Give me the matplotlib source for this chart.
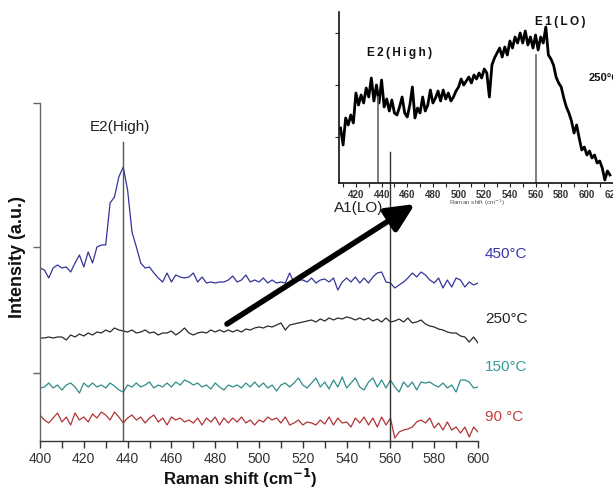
import numpy as np
import matplotlib
matplotlib.use("Agg")
import matplotlib.pyplot as plt
from matplotlib.patches import FancyArrowPatch
from matplotlib.ticker import MultipleLocator

plt.rcParams['font.family'] = ['Liberation Sans', 'DejaVu Sans']

# ---------------- data (main panel, Raman shift 400..600 cm-1, step 2) ----------------
x_start, x_step = 400, 2
i_450 = [172, 170, 162, 172, 175, 172, 173, 168, 177, 185, 173, 188, 177, 193, 195, 195, 237, 243, 263, 273,
         250, 208, 193, 177, 172, 173, 167, 162, 158, 167, 158, 165, 163, 162, 163, 167, 158, 163, 157, 158,
         157, 158, 158, 160, 164, 158, 160, 165, 158, 160, 158, 162, 157, 160, 157, 158, 157, 167, 157, 160,
         160, 158, 162, 157, 160, 161, 158, 162, 150, 158, 162, 158, 163, 157, 162, 157, 163, 167, 168, 158,
         157, 152, 155, 158, 162, 167, 163, 168, 165, 160, 157, 162, 152, 160, 153, 162, 160, 153, 158, 155, 157]
i_250 = [102, 102, 103, 102, 103, 103, 100, 105, 103, 106, 104, 107, 105, 108, 107, 110, 108, 112, 110, 109,
         108, 110, 107, 108, 110, 107, 108, 105, 107, 107, 109, 105, 108, 112, 107, 105, 107, 108, 107, 110,
         108, 110, 108, 110, 108, 110, 108, 111, 110, 112, 113, 112, 114, 113, 115, 117, 110, 115, 116, 117,
         118, 119, 120, 118, 121, 119, 122, 120, 122, 121, 123, 122, 120, 122, 120, 122, 119, 121, 118, 122,
         118, 119, 121, 118, 122, 117, 118, 120, 116, 114, 113, 111, 110, 108, 107, 107, 104, 103, 98, 103, 97]
i_150 = [52, 53, 57, 52, 55, 50, 55, 57, 53, 47, 57, 53, 57, 53, 55, 52, 57, 54, 50, 48,
         55, 53, 57, 53, 55, 58, 52, 55, 53, 57, 53, 58, 55, 60, 58, 55, 57, 53, 55, 51,
         57, 53, 50, 55, 53, 55, 52, 57, 53, 58, 53, 57, 52, 55, 49, 55, 57, 53, 57, 62,
         55, 52, 57, 62, 53, 58, 51, 60, 53, 63, 52, 57, 62, 53, 50, 58, 62, 53, 60, 52,
         60, 53, 48, 58, 53, 58, 50, 58, 57, 58, 55, 53, 57, 52, 55, 48, 60, 60, 58, 52, 53]
i_90 = [25, 20, 17, 22, 27, 18, 23, 15, 27, 20, 23, 18, 26, 22, 28, 25, 20, 28, 23, 17,
        22, 25, 20, 23, 17, 22, 25, 18, 22, 15, 23, 20, 22, 18, 20, 17, 22, 15, 22, 18,
        23, 15, 22, 17, 22, 18, 23, 17, 20, 15, 20, 18, 23, 20, 22, 17, 23, 15, 17, 20,
        15, 18, 17, 15, 20, 16, 23, 15, 22, 17, 18, 13, 22, 17, 23, 15, 22, 13, 23, 15,
        22, 2, 8, 10, 11, 13, 18, 20, 17, 22, 12, 17, 10, 18, 10, 13, 7, 13, 3, 13, 8]

series_labels = ['450°C', '250°C', '150°C', '90 °C']
series_values = [i_450, i_250, i_150, i_90]
series_colors = ['#34349a', '#2a2a2a', '#2f8c8c', '#b03434']
label_colors = ['#3838a8', '#222222', '#3a9a9a', '#c43c3c']

main_xticks = [400, 420, 440, 460, 480, 500, 520, 540, 560, 580, 600]
peak_main = {'E2(High)': 438, 'A1(LO)': 560}

# ---------------- data (inset, 250 °C spectrum, 408..618 cm-1, step 2) ----------------
ins_start, ins_step = 408, 2
ins_int = [55, 38, 65, 58, 68, 60, 90, 78, 88, 80, 95, 86, 105, 82, 98, 80, 103, 76, 84, 72,
           83, 70, 68, 76, 86, 70, 66, 78, 96, 65, 75, 70, 86, 72, 78, 93, 80, 85, 92, 82,
           93, 84, 90, 82, 86, 92, 96, 104, 98, 102, 106, 100, 108, 104, 110, 105, 114, 110, 86, 118,
           125, 130, 135, 126, 136, 128, 142, 135, 146, 140, 150, 140, 152, 138, 146, 135, 148, 133, 146, 140,
           156, 128, 124, 118, 106, 100, 96, 85, 76, 70, 62, 50, 58, 45, 33, 36, 28, 32, 25, 28,
           20, 22, 15, 3, 12, 8]
ins_xticks = [420, 440, 460, 480, 500, 520, 540, 560, 580, 600, 620]
peak_inset = {'E2(High)': 437, 'E1(LO)': 560}

# ---------------- figure ----------------
W, H = 613, 493
fig = plt.figure(figsize=(W / 100, H / 100), dpi=100)
fig.patch.set_facecolor('white')


def fx(px):
    return px / W


def fy(py):
    return 1 - py / H


def spaced(s):
    return '\u2009'.join(s)


# main axes: pixel box left 40, right 478, top 103, bottom 441
ax = fig.add_axes([fx(40), fy(441), fx(478) - fx(40), fy(103) - fy(441)])
ax.set_xlim(400, 600)
ax.set_ylim(-1, 337)
for s in ['top', 'right']:
    ax.spines[s].set_visible(False)
ax.spines['left'].set_color('#666666')
ax.spines['bottom'].set_color('#333333')
ax.spines['left'].set_linewidth(1.0)
ax.spines['bottom'].set_linewidth(1.0)
ax.set_xticks(main_xticks)
ax.xaxis.set_minor_locator(MultipleLocator(10))
ax.set_yticks([67, 193, 337])
ax.set_yticklabels([])
ax.tick_params(axis='x', which='major', direction='out', length=5, width=1, color='#333333',
               labelsize=10, labelcolor='#333333', pad=3)
ax.tick_params(axis='x', which='minor', direction='out', length=5, width=1, color='#333333')
ax.tick_params(axis='y', direction='out', length=5, width=1, color='#666666')
ax.patch.set_alpha(0)

for vals, col in zip(series_values, series_colors):
    xs = x_start + x_step * np.arange(len(vals))
    ax.plot(xs, vals, color=col, lw=0.9)

ax.plot([peak_main['E2(High)']] * 2, [-1, 298], color='#555555', lw=1.0)
ax.plot([peak_main['A1(LO)']] * 2, [-1, 288], color='#333333', lw=1.0)

# labels of main panel
fig.text(fx(120), fy(127), 'E2(High)', fontsize=11, ha='center', va='center', color='#222222')
fig.text(fx(359), fy(208), 'A1(LO)', fontsize=11, ha='center', va='center', color='#222222')
label_y = [254, 319, 367, 417]
for lab, c, py in zip(series_labels, label_colors, label_y):
    fig.text(fx(485), fy(py), lab, fontsize=11, ha='left', va='center', color=c)

fig.text(fx(18), fy(257), 'Intensity (a.u.)', fontsize=13, fontweight='bold', rotation=90,
         ha='center', va='center', color='#111111')
fig.text(fx(240), fy(478), r'Raman shift (cm$^{\mathbf{-1}}$)', fontsize=12, fontweight='bold',
         ha='center', va='center', color='#111111')

# ---------------- inset ----------------
in_left_px, in_top_px, in_bot_px = 339, 12, 183
in_xmin, in_xmax = 406.8, 630.0
px_per_unit = 1.283
in_right_px = in_left_px + (in_xmax - in_xmin) * px_per_unit
ax2 = fig.add_axes([fx(in_left_px), fy(in_bot_px), fx(in_right_px) - fx(in_left_px), fy(in_top_px) - fy(in_bot_px)])
ax2.set_xlim(in_xmin, in_xmax)
ax2.set_ylim(0, 171)
for s in ['top', 'right']:
    ax2.spines[s].set_visible(False)
for s in ['left', 'bottom']:
    ax2.spines[s].set_color('#111111')
    ax2.spines[s].set_linewidth(1.2)
ax2.set_xticks(ins_xticks)
ax2.xaxis.set_minor_locator(MultipleLocator(10))
ax2.set_yticks([46, 98, 150])
ax2.set_yticklabels([])
ax2.tick_params(axis='x', which='both', direction='out', length=3, width=0.8, color='#222222',
                labelsize=7, labelcolor='#333333', pad=2)
ax2.tick_params(axis='y', direction='out', length=3, width=0.8, color='#222222')
for t in ax2.get_xticklabels():
    t.set_fontweight('bold')
ax2.patch.set_alpha(0)

xs_in = ins_start + ins_step * np.arange(len(ins_int))
ax2.plot(xs_in, ins_int, color='#000000', lw=2.0, clip_on=False)
ax2.plot([peak_inset['E2(High)']] * 2, [0, 86], color='#666666', lw=1.2)
ax2.plot([peak_inset['E1(LO)']] * 2, [0, 128], color='#666666', lw=1.2)

fig.text(fx(367), fy(53), spaced('E2(High)'), fontsize=8.5, fontweight='bold', ha='left', va='center',
         color='#111111', family=['Liberation Sans', 'DejaVu Sans'])
fig.text(fx(535), fy(22), spaced('E1(LO)'), fontsize=8.5, fontweight='bold', ha='left', va='center',
         color='#111111', family=['Liberation Sans', 'DejaVu Sans'])
fig.text(fx(589), fy(78), '250°C', fontsize=8, fontweight='bold', ha='left', va='center',
         color='#111111')
fig.text(fx(477), fy(203), r'Raman shift (cm$^{-1}$)', fontsize=4.5, ha='center', va='center', color='#555555')

# arrow
arr = FancyArrowPatch((fx(227), fy(324)), (fx(415), fy(204)), transform=fig.transFigure,
                      arrowstyle='-|>,head_length=0.85,head_width=0.4', mutation_scale=20,
                      lw=4, color='#000000', shrinkA=0, shrinkB=0, zorder=10)
fig.add_artist(arr)

fig.savefig('out.png', dpi=100)
